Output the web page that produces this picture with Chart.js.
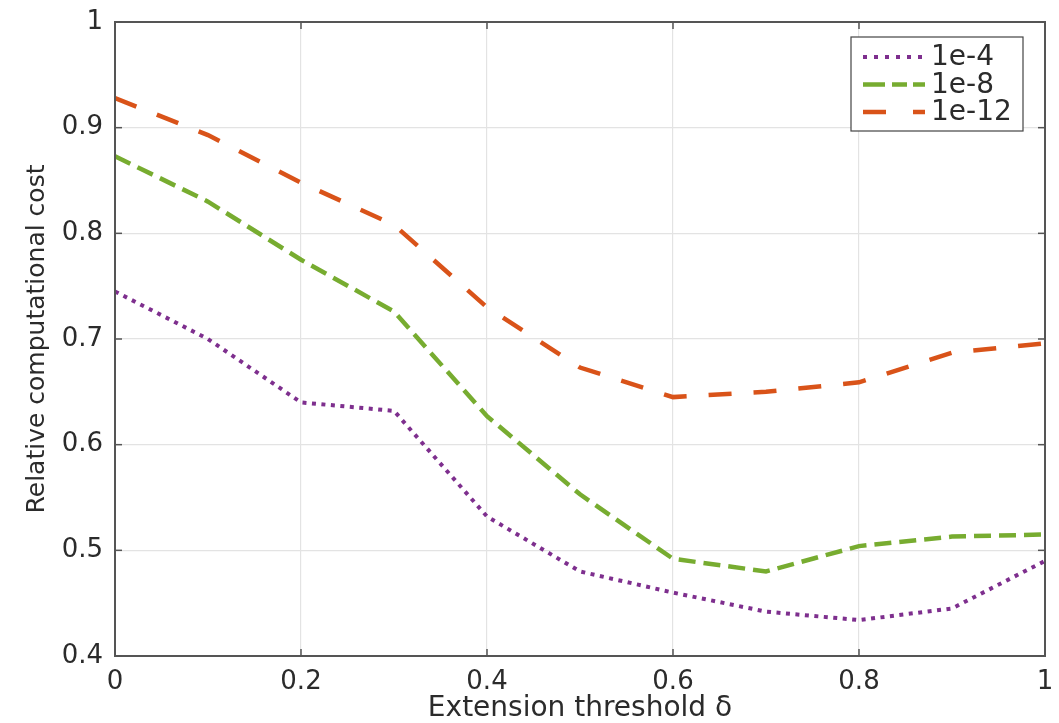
<!DOCTYPE html>
<html>
<head>
<meta charset="utf-8">
<script src="https://cdn.jsdelivr.net/npm/chart.js@4.4.1/dist/chart.umd.min.js"></script>
<style>
html,body{margin:0;padding:0;background:#fff;}
#wrap{width:1059px;height:723px;position:relative;}
</style>
</head>
<body>
<div id="wrap"><canvas id="c" width="1059" height="723"></canvas></div>
<script>
const thresholds = [0, 0.1, 0.2, 0.3, 0.4, 0.5, 0.6, 0.7, 0.8, 0.9, 1];
const cost1e4  = [0.745, 0.700, 0.640, 0.632, 0.532, 0.480, 0.460, 0.442, 0.434, 0.445, 0.490];
const cost1e8  = [0.873, 0.830, 0.775, 0.726, 0.627, 0.553, 0.492, 0.480, 0.504, 0.513, 0.515];
const cost1e12 = [0.928, 0.893, 0.848, 0.808, 0.730, 0.673, 0.645, 0.650, 0.659, 0.687, 0.696];
const seriesNames = ['1e-4', '1e-8', '1e-12'];
const xTicks = [0, 0.2, 0.4, 0.6, 0.8, 1];
const yTicks = [0.4, 0.5, 0.6, 0.7, 0.8, 0.9, 1];

const FONT = '"DejaVu Sans", Verdana, sans-serif';
const TXT = '#2b2b2b';
const pts = arr => thresholds.map((x, i) => ({x: x, y: arr[i]}));

const boxPlugin = {
  id: 'box',
  afterDraw(chart) {
    const {ctx, chartArea: a, scales} = chart;
    ctx.save();
    ctx.strokeStyle = '#555';
    ctx.lineWidth = 2;
    ctx.strokeRect(a.left, a.top, a.right - a.left, a.bottom - a.top);
    ctx.lineWidth = 1.5;
    const t = 7;
    xTicks.forEach(v => {
      const x = scales.x.getPixelForValue(v);
      ctx.beginPath(); ctx.moveTo(x, a.bottom); ctx.lineTo(x, a.bottom - t); ctx.stroke();
      ctx.beginPath(); ctx.moveTo(x, a.top); ctx.lineTo(x, a.top + t); ctx.stroke();
    });
    yTicks.forEach(v => {
      const y = scales.y.getPixelForValue(v);
      ctx.beginPath(); ctx.moveTo(a.left, y); ctx.lineTo(a.left + t, y); ctx.stroke();
      ctx.beginPath(); ctx.moveTo(a.right, y); ctx.lineTo(a.right - t, y); ctx.stroke();
    });
    // legend
    const lx = 851, ly = 37, lw = 172, lh = 94;
    ctx.fillStyle = '#fff';
    ctx.fillRect(lx, ly, lw, lh);
    ctx.strokeStyle = '#444';
    ctx.lineWidth = 1.2;
    ctx.strokeRect(lx, ly, lw, lh);
    ctx.font = '28px ' + FONT;
    ctx.textBaseline = 'middle';
    ctx.textAlign = 'left';
    chart.data.datasets.forEach((ds, i) => {
      const y = ly + 20 + i * 27.5;
      ctx.save();
      ctx.strokeStyle = ds.borderColor;
      ctx.lineWidth = ds.borderWidth;
      ctx.lineCap = 'butt';
      ctx.setLineDash(ds.legendDash || ds.borderDash);
      ctx.beginPath(); ctx.moveTo(lx + 12, y); ctx.lineTo(lx + 74, y); ctx.stroke();
      ctx.restore();
      ctx.fillStyle = TXT;
      ctx.fillText(ds.label, lx + 80, y + 1);
    });
    ctx.restore();
  }
};

new Chart(document.getElementById('c'), {
  type: 'line',
  data: {
    datasets: [
      {label: seriesNames[0], data: pts(cost1e4), borderColor: '#7E2F8E', borderWidth: 4,
       borderDash: [4, 5.5], legendDash: [4, 7], pointRadius: 0, tension: 0},
      {label: seriesNames[1], data: pts(cost1e8), borderColor: '#77AC30', borderWidth: 4.5,
       borderDash: [17, 8], legendDash: [22, 7, 15, 6], pointRadius: 0, tension: 0},
      {label: seriesNames[2], data: pts(cost1e12), borderColor: '#D95319', borderWidth: 4.5,
       borderDash: [23, 22], legendDash: [23, 27], pointRadius: 0, tension: 0}
    ]
  },
  options: {
    responsive: false,
    animation: false,
    layout: {padding: {left: 0, right: 14, top: 22, bottom: 0}},
    plugins: {legend: {display: false}, tooltip: {enabled: false}},
    scales: {
      x: {
        type: 'linear', min: 0, max: 1,
        afterBuildTicks: s => { s.ticks = xTicks.map(v => ({value: v})); },
        afterFit: s => { s.height = 67; s.paddingLeft = 0; s.paddingRight = 0; },
        grid: {color: '#e3e3e3', lineWidth: 1.2, drawTicks: false},
        border: {display: false},
        ticks: {
          font: {family: FONT, size: 26}, color: TXT, padding: 11,
          maxRotation: 0, autoSkip: false,
          callback: v => String(Math.round(v * 10) / 10)
        },
        title: {display: true, text: 'Extension threshold δ', font: {family: FONT, size: 28},
                color: TXT, padding: {top: 0, bottom: -3}}
      },
      y: {
        type: 'linear', min: 0.4, max: 1,
        afterBuildTicks: s => { s.ticks = yTicks.map(v => ({value: v})); },
        afterFit: s => { s.width = 115; s.paddingTop = 0; s.paddingBottom = 0; },
        grid: {color: '#e3e3e3', lineWidth: 1.2, drawTicks: false},
        border: {display: false},
        ticks: {
          font: {family: FONT, size: 26}, color: TXT, padding: 12,
          callback: v => String(Math.round(v * 10) / 10)
        },
        title: {display: true, text: 'Relative computational cost', font: {family: FONT, size: 25},
                color: TXT, padding: {top: 22, bottom: 0}}
      }
    }
  },
  plugins: [boxPlugin]
});
</script>
</body>
</html>
